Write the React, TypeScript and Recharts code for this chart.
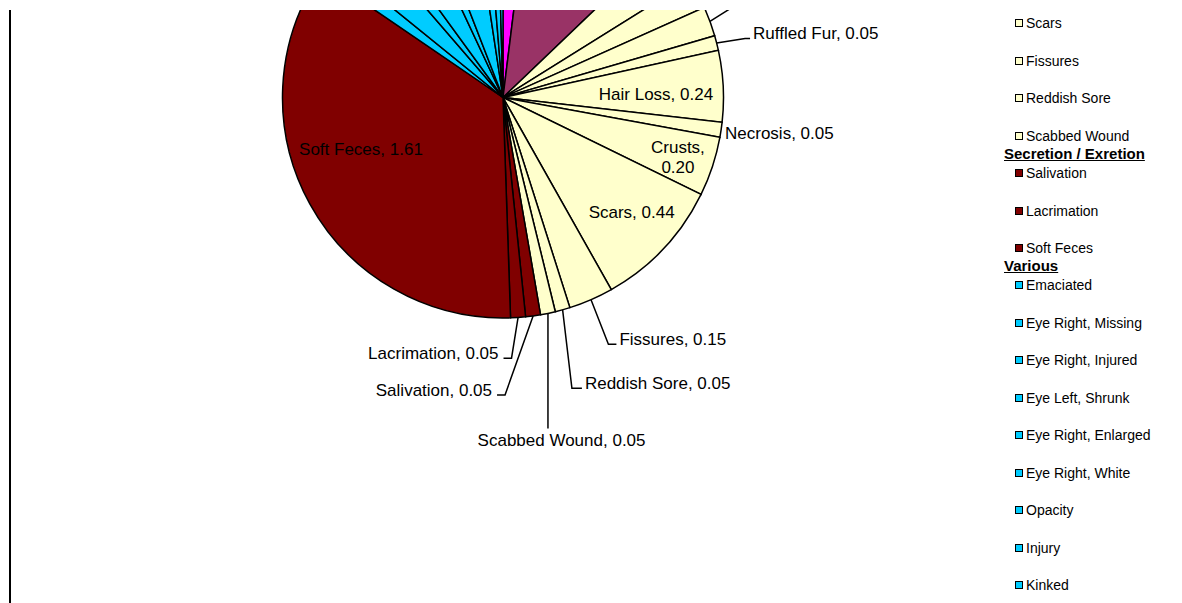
import React from "react"
import { PieChart, Pie, Legend } from "recharts"

// Legend groups, in the order the slices run clockwise from 12 o'clock
const groupNames = ["Behaviour", "Growth", "Skin / Fur", "Secretion / Exretion", "Various"]

const behaviourNames = ["Apathy"]
const behaviourValues = [0.09]

const growthNames = ["Tumor"]
const growthValues = [0.5]

const skinNames = [
  "Swelling", "Abscess", "Wound", "Ruffled Fur", "Hair Loss", "Necrosis",
  "Crusts", "Scars", "Fissures", "Reddish Sore", "Scabbed Wound",
]
const skinValues = [0.15, 0.1, 0.1, 0.05, 0.24, 0.05, 0.2, 0.44, 0.15, 0.05, 0.05]

const secretionNames = ["Salivation", "Lacrimation", "Soft Feces"]
const secretionValues = [0.05, 0.05, 1.61]

const variousNames = [
  "Emaciated", "Eye Right, Missing", "Eye Right, Injured", "Eye Left, Shrunk",
  "Eye Right, Enlarged", "Eye Right, White", "Opacity", "Injury", "Kinked",
]
const variousValues = [0.06, 0.13, 0.06, 0.14, 0.05, 0.16, 0.05, 0.04, 0.02]

const groupColors: Record<string, string> = {
  Behaviour: "#FF00FF",
  Growth: "#993366",
  "Skin / Fur": "#FFFFCC",
  "Secretion / Exretion": "#800000",
  Various: "#00CCFF",
}

const groupSeries: [string, string[], number[]][] = [
  [groupNames[0], behaviourNames, behaviourValues],
  [groupNames[1], growthNames, growthValues],
  [groupNames[2], skinNames, skinValues],
  [groupNames[3], secretionNames, secretionValues],
  [groupNames[4], variousNames, variousValues],
]

const data = groupSeries.flatMap(([group, names, values]) =>
  names.map((name, i) => ({ name, value: values[i], group, fill: groupColors[group] }))
)

// the picture only shows a window of a taller chart
const WIDTH = 1182
const VIEW_TOP = 10
const VIEW_HEIGHT = 593
const HIDDEN = 600
const HEIGHT = VIEW_HEIGHT + HIDDEN
const CX = 503
const CY = 97.5 - VIEW_TOP + HIDDEN
const RADIUS = 220.5

const FONT = "'Liberation Sans', Arial, sans-serif"
const RAD = Math.PI / 180

type Placement = {
  kind: "inside" | "edge" | "leader" | "below"
  r: number
  turn: number
  stub?: number
  wrap?: boolean
}

// where each data label sits, relative to its slice
const labelPlacement: Record<string, Placement> = {
  Tumor: { kind: "inside", r: 0.6, turn: 0 },
  Wound: { kind: "leader", r: 1.21, turn: -2.1, stub: 6 },
  "Ruffled Fur": { kind: "leader", r: 1.13, turn: 0.6, stub: 5 },
  "Hair Loss": { kind: "inside", r: 0.694, turn: 1.65 },
  Necrosis: { kind: "edge", r: 1.02, turn: 0.75 },
  Crusts: { kind: "inside", r: 0.838, turn: 0.55, wrap: true },
  Scars: { kind: "inside", r: 0.78, turn: -1.75 },
  Fissures: { kind: "leader", r: 1.217, turn: 0.4, stub: 8 },
  "Reddish Sore": { kind: "leader", r: 1.355, turn: 2.35, stub: 10 },
  "Scabbed Wound": { kind: "below", r: 1.574, turn: 2.05 },
  Salivation: { kind: "leader", r: 1.349, turn: 7.45, stub: -8 },
  Lacrimation: { kind: "leader", r: 1.183, turn: 2.05, stub: -8 },
  "Soft Feces": { kind: "inside", r: 0.685, turn: 8.95 },
}

const renderLabel = (p: any) => {
  const { cx, cy, midAngle, outerRadius, name, value } = p
  const mid = 90 - midAngle
  const at = (deg: number, r: number) => ({
    x: cx + r * Math.sin(deg * RAD),
    y: cy - r * Math.cos(deg * RAD),
  })
  const text = `${name}, ${Number(value).toFixed(2)}`
  const place: Placement =
    labelPlacement[name] ?? { kind: "leader", r: 1.15, turn: 0, stub: mid < 180 ? 6 : -6 }
  const pos = at(mid + place.turn, outerRadius * place.r)
  const edge = at(mid, outerRadius)
  const textProps = { fontFamily: FONT, fontSize: 17, fill: "#000" }

  if (place.kind === "inside") {
    if (place.wrap) {
      return (
        <text {...textProps} textAnchor="middle">
          <tspan x={pos.x} y={pos.y - 4}>{`${name},`}</tspan>
          <tspan x={pos.x} y={pos.y + 16}>{Number(value).toFixed(2)}</tspan>
        </text>
      )
    }
    return (
      <text {...textProps} x={pos.x} y={pos.y + 6} textAnchor="middle">
        {text}
      </text>
    )
  }
  if (place.kind === "edge") {
    return (
      <text {...textProps} x={pos.x} y={pos.y + 6} textAnchor="start">
        {text}
      </text>
    )
  }
  if (place.kind === "below") {
    return (
      <g>
        <polyline
          points={`${edge.x},${edge.y} ${edge.x},${pos.y - 11}`}
          fill="none"
          stroke="#000"
          strokeWidth={1.5}
        />
        <text {...textProps} x={pos.x} y={pos.y + 6} textAnchor="middle">
          {text}
        </text>
      </g>
    )
  }
  const stub = place.stub ?? 6
  const end = pos.x + stub
  const right = stub > 0
  return (
    <g>
      <polyline
        points={`${edge.x},${edge.y} ${pos.x},${pos.y} ${end},${pos.y}`}
        fill="none"
        stroke="#000"
        strokeWidth={1.5}
      />
      <text
        {...textProps}
        x={right ? end + 3 : end - 5}
        y={pos.y + 1}
        textAnchor={right ? "start" : "end"}
      >
        {text}
      </text>
    </g>
  )
}

const LEGEND_LEFT = 1000
const LEGEND_ROW = 37.45
const LEGEND_FIRST = 613.3 - 9 * LEGEND_ROW

// keep legend entries in slice order
const legendOrder = (item: any) => data.findIndex((d) => d.name === item.value)

const renderLegend = (props: any) => {
  const items: any[] = [...(props.payload ?? [])].sort((a, b) => legendOrder(a) - legendOrder(b))
  let lastGroup = ""
  const nodes: React.ReactNode[] = []
  items.forEach((item, i) => {
    const row = data.find((d) => d.name === item.value)
    const group = row ? row.group : ""
    const y = LEGEND_FIRST + i * LEGEND_ROW
    if (group !== lastGroup) {
      nodes.push(
        <div
          key={`h-${group}`}
          style={{
            position: "absolute",
            left: 4,
            top: y - 19 - 9,
            height: 18,
            lineHeight: "18px",
            fontSize: 15,
            fontWeight: "bold",
            textDecoration: "underline",
            whiteSpace: "nowrap",
          }}
        >
          {group}
        </div>
      )
      lastGroup = group
    }
    nodes.push(
      <div
        key={`i-${item.value}`}
        style={{
          position: "absolute",
          left: 15,
          top: y - 9,
          height: 18,
          display: "flex",
          alignItems: "center",
          whiteSpace: "nowrap",
          fontSize: 14,
        }}
      >
        <span
          style={{
            display: "inline-block",
            width: 8,
            height: 8,
            boxSizing: "border-box",
            border: "1.5px solid #000",
            background: row ? row.fill : item.color,
            marginRight: 3,
          }}
        />
        {item.value}
      </div>
    )
  })
  return <div style={{ position: "relative", fontFamily: FONT, color: "#000" }}>{nodes}</div>
}

export default function App() {
  return (
    <div
      style={{
        position: "absolute",
        left: 0,
        top: VIEW_TOP,
        width: WIDTH,
        height: VIEW_HEIGHT,
        overflow: "hidden",
        background: "#fff",
        fontFamily: FONT,
      }}
    >
      <div style={{ position: "absolute", left: 9, top: 0, width: 1.5, height: VIEW_HEIGHT, background: "#000" }} />
      <div style={{ position: "absolute", left: 0, top: -HIDDEN }}>
        <PieChart width={WIDTH} height={HEIGHT} margin={{ top: 0, right: 0, bottom: 0, left: 0 }}>
          <Pie
            data={data}
            dataKey="value"
            nameKey="name"
            cx={CX}
            cy={CY}
            outerRadius={RADIUS}
            startAngle={90}
            endAngle={-270}
            stroke="#000"
            strokeWidth={1.5}
            label={renderLabel}
            labelLine={false}
            isAnimationActive={false}
          />
          <Legend
            layout="vertical"
            align="right"
            verticalAlign="top"
            itemSorter={legendOrder}
            content={renderLegend}
            wrapperStyle={{ left: LEGEND_LEFT, top: 0, width: WIDTH - LEGEND_LEFT, height: HEIGHT }}
          />
        </PieChart>
      </div>
    </div>
  )
}
